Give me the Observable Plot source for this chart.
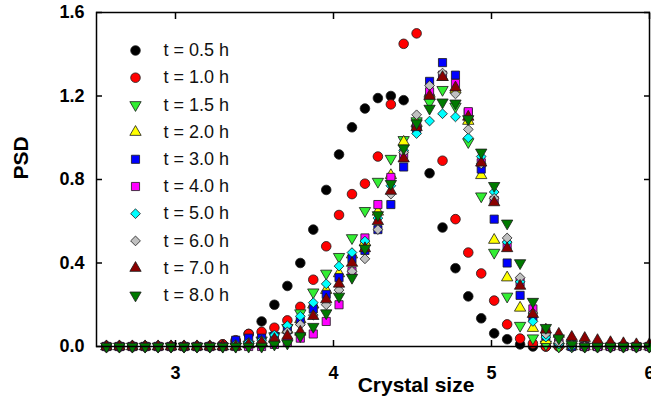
<!DOCTYPE html>
<html><head><meta charset="utf-8">
<script src="https://cdn.jsdelivr.net/npm/d3@7"></script>
<script src="https://cdn.jsdelivr.net/npm/@observablehq/plot@0.6"></script>
<style>
body{margin:0;background:#fff}
#chart{width:651px;height:409px}
</style></head><body><div id="chart"></div>
<script>
const crystalSize = [2.563,2.645,2.727,2.808,2.890,2.972,3.054,3.136,3.217,3.299,3.381,3.463,3.545,3.626,3.708,3.790,3.872,3.954,4.035,4.117,4.199,4.281,4.363,4.444,4.526,4.608,4.690,4.772,4.853,4.935,5.017,5.099,5.181,5.262,5.344,5.426,5.508,5.590,5.671,5.753,5.835,5.917,5.999];
const seriesLabels = ["t = 0.5 h","t = 1.0 h","t = 1.5 h","t = 2.0 h","t = 3.0 h","t = 4.0 h","t = 5.0 h","t = 6.0 h","t = 7.0 h","t = 8.0 h"];
const psd05 = [0,0,0,0,0,0,0,0,0,0.01,0.025,0.06,0.12,0.20,0.29,0.40,0.56,0.75,0.92,1.05,1.14,1.19,1.20,1.18,1.05,0.83,0.57,0.375,0.24,0.135,0.063,0.035,0.01,0,0,0,0,0,0,0,0,0,0];
const psd10 = [0,0,0,0,0,0,0,0,0,0.01,0.03,0.06,0.07,0.09,0.125,0.19,0.32,0.48,0.63,0.73,0.78,0.91,1.16,1.45,1.50,1.20,0.89,0.61,0.45,0.35,0.22,0.106,0.038,0.014,0,0,0,0,0,0,0,0,0];
const psd15 = [0,0,0,0,0,0,0,0,0,0,0,0.01,0.03,0.05,0.09,0.16,0.26,0.35,0.43,0.52,0.65,0.79,0.90,0.99,1.08,1.17,1.23,1.15,0.98,0.72,0.45,0.24,0.10,0.04,0.01,0,0,0,0,0,0,0,0];
const psd20 = [0,0,0,0,0,0,0,0,0,0,0,0.01,0.02,0.04,0.08,0.13,0.20,0.27,0.35,0.44,0.50,0.645,0.82,0.98,1.07,1.21,1.29,1.23,1.08,0.82,0.51,0.33,0.185,0.088,0.03,0.01,0,0,0,0,0,0,0];
const psd30 = [0,0,0,0,0,0,0,0,0,0,0.03,0.04,0.04,0.05,0.08,0.12,0.18,0.25,0.33,0.42,0.46,0.56,0.68,0.86,1.04,1.27,1.36,1.30,1.12,0.85,0.61,0.40,0.245,0.14,0.05,0.015,0,0,0,0,0,0,0];
const psd40 = [0,0,0,0,0,0,0,0,0,0,0,0,0,0.01,0.02,0.04,0.06,0.12,0.20,0.36,0.52,0.68,0.81,0.92,1.06,1.22,1.30,1.26,1.125,0.88,0.70,0.485,0.31,0.18,0.07,0.02,0.01,0,0,0,0,0,0];
const psd50 = [0,0,0,0,0,0,0,0,0,0,0.01,0.02,0.03,0.055,0.10,0.145,0.21,0.30,0.385,0.45,0.505,0.615,0.77,0.94,1.02,1.08,1.115,1.10,1.0,0.91,0.74,0.50,0.31,0.12,0.045,0.012,0,0,0,0,0,0,0];
const psd60 = [0,0,0,0,0,0,0,0,0,0,0,0.01,0.02,0.035,0.07,0.105,0.15,0.20,0.27,0.36,0.42,0.56,0.73,0.93,1.11,1.25,1.31,1.21,1.04,0.875,0.71,0.52,0.33,0.16,0.06,0.02,0.01,0,0,0,0,0,0];
const psd70 = [0,0,0,0,0,0,0,0,0,0,0,0.01,0.02,0.035,0.05,0.07,0.145,0.225,0.30,0.40,0.47,0.60,0.745,0.90,1.05,1.20,1.29,1.24,1.10,0.88,0.69,0.47,0.29,0.155,0.08,0.06,0.045,0.04,0.03,0.02,0.015,0.01,0.01];
const psd80 = [0,0,0,0,0,0,0,0,0,0,0,0,0,0.01,0.015,0.05,0.095,0.16,0.24,0.33,0.47,0.63,0.78,0.95,1.07,1.14,1.17,1.165,1.09,0.93,0.77,0.59,0.40,0.215,0.09,0.04,0.01,0,0,0,0,0,0];
const seriesValues = [psd05, psd10, psd15, psd20, psd30, psd40, psd50, psd60, psd70, psd80];
const xTicks = [3, 4, 5, 6];
const yTicks = [0, 0.4, 0.8, 1.2, 1.6];

const s3 = Math.sqrt(3);
const triangleDown = {draw(ctx, size) {
  const y = -Math.sqrt(size / (s3 * 3));
  ctx.moveTo(0, -2 * y);
  ctx.lineTo(s3 * y, y);
  ctx.lineTo(-s3 * y, y);
  ctx.closePath();
}};

const styles = [
  {symbol: "circle", fill: "#000000", r: 4.8},
  {symbol: "circle", fill: "#ff0000", r: 4.8},
  {symbol: triangleDown, fill: "#33ee33", r: 4.2},
  {symbol: "triangle", fill: "#ffff00", r: 4.2},
  {symbol: "square", fill: "#0000ff", r: 4.6},
  {symbol: "square", fill: "#ff00ff", r: 4.6},
  {symbol: "diamond2", fill: "#00ffff", r: 4.4},
  {symbol: "diamond2", fill: "#c0c0c0", r: 4.4},
  {symbol: "triangle", fill: "#8b0000", r: 4.2},
  {symbol: triangleDown, fill: "#007a00", r: 4.2}
];

const rows = seriesValues.map(vals => vals.map((v, i) => ({x: crystalSize[i], y: v})));
const font = "'Liberation Sans', Arial, sans-serif";

const marks = [];
rows.forEach((data, i) => {
  marks.push(Plot.dot(data, {x: "x", y: "y", ...styles[i], stroke: "#1a1a1a", strokeWidth: 0.8}));
});
seriesLabels.forEach((lab, i) => {
  marks.push(Plot.dot([lab], {frameAnchor: "top-left", dx: 39, dy: 38 + i * 27.2, ...styles[i], stroke: "#1a1a1a", strokeWidth: 0.8}));
  marks.push(Plot.text([lab], {text: d => d, frameAnchor: "top-left", dx: 67, dy: 38 + i * 27.2, textAnchor: "start", lineAnchor: "middle", fontSize: 18, fontFamily: font, fill: "#111"}));
});
marks.push(Plot.frame({stroke: "black", strokeWidth: 1.5}));
marks.push(Plot.axisX(xTicks, {anchor: "bottom", tickSize: -6, tickPadding: 26, strokeWidth: 1.5, fontSize: 18, fontWeight: "bold", tickFormat: d3.format("d"), label: null}));
marks.push(Plot.axisX(xTicks, {anchor: "top", tickSize: -6, strokeWidth: 1.5, tickFormat: () => "", label: null}));
marks.push(Plot.axisY(yTicks, {anchor: "left", tickSize: -6, tickPadding: 18, strokeWidth: 1.5, fontSize: 18, fontWeight: "bold", tickFormat: d3.format(".1f"), label: null}));
marks.push(Plot.axisY(yTicks, {anchor: "right", tickSize: -6, strokeWidth: 1.5, tickFormat: () => "", label: null}));
marks.push(Plot.text(["PSD"], {text: d => d, frameAnchor: "left", dx: -75, rotate: -90, fontSize: 21, fontWeight: "bold", fontFamily: font}));
marks.push(Plot.text(["Crystal size"], {text: d => d, frameAnchor: "bottom", dx: 43, dy: 45, fontSize: 21, fontWeight: "bold", fontFamily: font}));

const chart = Plot.plot({
  width: 651, height: 409,
  marginLeft: 96, marginRight: 2, marginTop: 12, marginBottom: 63,
  x: {domain: [2.5, 6]},
  y: {domain: [0, 1.6]},
  style: {fontFamily: font, fontSize: "18px", color: "black", background: "white", overflow: "visible"},
  marks
});
document.getElementById("chart").appendChild(chart);
</script></body></html>
